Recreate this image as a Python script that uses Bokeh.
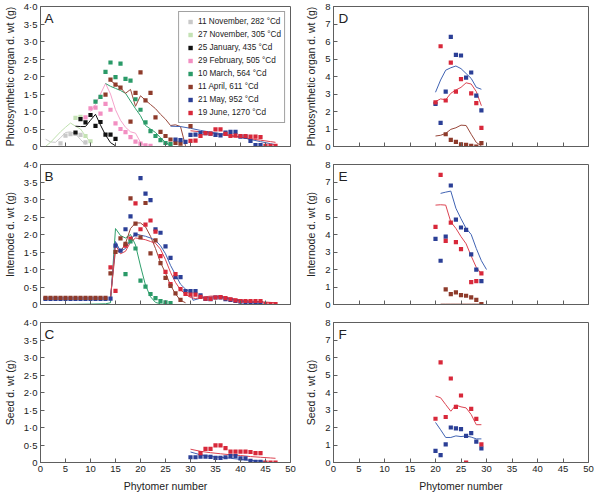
from bokeh.plotting import figure
from bokeh.layouts import gridplot
from bokeh.models import Range1d, FixedTicker, CustomJSTickFormatter, Legend, LegendItem, Label
from bokeh.embed import file_html
from bokeh.resources import INLINE

FONT = "Liberation Sans"

# ---------------- colours / labels ----------------
series_labels = ["11 November, 282 \u00b0Cd", "27 November, 305 \u00b0Cd", "25 January, 435 \u00b0Cd",
                 "29 February, 505 \u00b0Cd", "10 March, 564 \u00b0Cd", "11 April, 611 \u00b0Cd",
                 "21 May, 952 \u00b0Cd", "19 June, 1270 \u00b0Cd"]
series_colors = ["#c9c9c9", "#c4e2b4", "#111111", "#f28fc2", "#2a9a68", "#8e3b2b", "#2b3f96", "#d8283a"]
line_colors = ["#c9c9c9", "#bfe0ae", "#111111", "#f4a3cb", "#2f9f6c", "#98473a", "#4063b3", "#dc4452"]

x_ticks = [0, 5, 10, 15, 20, 25, 30, 35, 40, 45, 50]
left_y_ticks = [0, 0.5, 1.0, 1.5, 2.0, 2.5, 3.0, 3.5, 4.0]
right_y_ticks = [0, 1, 2, 3, 4, 5, 6, 7, 8]

# ---------------- Panel A : photosynthetic organ, main stem ----------------
a_nov11_px = [4, 5, 6, 7, 8, 9]
a_nov11_py = [0.09, 0.31, 0.35, 0.36, 0.33, 0.12]
a_nov11_lx = [1, 2, 3, 4, 5, 6, 7, 8, 9]
a_nov11_ly = [0.21, 0.13, 0.12, 0.25, 0.40, 0.42, 0.36, 0.20, 0.05]

a_nov27_px = [7, 8, 9, 10]
a_nov27_py = [0.82, 0.85, 0.30, 0.15]
a_nov27_lx = [1, 2, 3, 4, 5, 6, 7, 8, 9, 10]
a_nov27_ly = [0.00, 0.12, 0.27, 0.42, 0.55, 0.67, 0.58, 0.50, 0.30, 0.12]

a_jan25_px = [7, 8, 9, 10, 11, 12, 13, 14, 15]
a_jan25_py = [0.40, 0.78, 0.69, 0.90, 0.59, 0.70, 0.34, 0.34, 0.22]
a_jan25_lx = [7, 8, 9, 10, 11, 12, 13, 14, 15]
a_jan25_ly = [0.58, 0.57, 0.57, 0.75, 0.92, 0.61, 0.33, 0.11, 0.02]

a_feb29_px = [9, 10, 11, 12, 13, 14, 15, 16, 17, 18, 19, 20, 21, 22]
a_feb29_py = [0.83, 1.09, 1.11, 0.94, 1.22, 1.05, 0.66, 0.50, 0.41, 0.27, 0.14, 0.08, 0.03, 0.02]
a_feb29_lx = [10, 11, 12, 13, 14, 15, 16, 17, 18, 19, 20, 21]
a_feb29_ly = [1.00, 1.20, 1.50, 1.80, 1.50, 1.05, 0.75, 0.55, 0.42, 0.38, 0.12, 0.00]

a_mar10_px = [11, 12, 13, 14, 15, 16, 17, 18, 19, 20, 21, 22, 23, 24, 25, 26]
a_mar10_py = [1.28, 1.42, 2.13, 2.40, 1.98, 2.37, 1.93, 1.88, 1.35, 1.05, 0.69, 0.44, 0.30, 0.18, 0.10, 0.07]
a_mar10_lx = [13, 14, 15, 16, 17, 18, 19, 20, 21, 22, 23, 24, 25, 26]
a_mar10_ly = [1.80, 1.72, 1.66, 1.60, 1.52, 1.30, 1.08, 0.88, 0.60, 0.50, 0.40, 0.25, 0.12, 0.03]

a_apr11_px = [13, 14, 15, 16, 18, 19, 20, 21, 22, 23, 24, 25, 26, 27, 28, 30]
a_apr11_py = [1.48, 1.91, 1.77, 1.68, 0.71, 1.53, 2.12, 1.32, 1.53, 0.83, 0.42, 0.30, 0.20, 0.10, 0.08, 0.58]
a_apr11_lx = [14, 15, 16, 17, 18, 19, 20, 21, 22, 23, 24, 25, 26, 27, 28, 29]
a_apr11_ly = [1.88, 1.78, 1.68, 1.52, 1.63, 1.15, 1.45, 1.32, 1.20, 1.08, 0.92, 0.78, 0.60, 0.62, 0.57, 0.02]

a_may21_px = [27, 28, 29, 30, 31, 32, 33, 34, 35, 36, 37, 38, 39, 40, 41, 42, 43, 44]
a_may21_py = [0.20, 0.18, 0.13, 0.33, 0.34, 0.38, 0.38, 0.37, 0.33, 0.32, 0.40, 0.42, 0.42, 0.28, 0.28, 0.16, 0.04, 0.04]
a_may21_lx = [26, 28, 30, 32, 34, 36, 38, 40, 42, 44, 46, 47]
a_may21_ly = [0.58, 0.57, 0.52, 0.46, 0.41, 0.37, 0.32, 0.27, 0.20, 0.14, 0.08, 0.05]

a_jun19_px = [30, 31, 32, 33, 34, 35, 36, 37, 38, 39, 40, 41, 42, 43, 44, 45, 46, 47]
a_jun19_py = [0.16, 0.17, 0.30, 0.38, 0.37, 0.49, 0.49, 0.36, 0.30, 0.31, 0.30, 0.30, 0.28, 0.28, 0.27, 0.02, 0.02, 0.02]
a_jun19_lx = [30, 32, 34, 36, 38, 40, 42, 44, 46, 47]
a_jun19_ly = [0.45, 0.42, 0.38, 0.34, 0.30, 0.26, 0.22, 0.18, 0.14, 0.12]

# ---------------- Panel B : internode, main stem ----------------
b_mar10_px = [17, 18, 19, 20, 21, 22, 23, 24, 25, 26]
b_mar10_py = [0.87, 1.80, 1.60, 0.68, 0.51, 0.30, 0.18, 0.10, 0.06, 0.04]
b_mar10_lx = [1, 5, 10, 13, 14, 15, 16, 17, 18, 19, 20, 21, 22, 23, 24, 25]
b_mar10_ly = [0.00, 0.00, 0.01, 0.02, 0.05, 2.17, 1.97, 1.90, 2.00, 1.70, 1.10, 0.55, 0.22, 0.06, 0.02, 0.00]

b_apr11_px = [1, 2, 3, 4, 5, 6, 7, 8, 9, 10, 11, 12, 13, 14, 15, 16, 17, 18, 19, 20, 21, 22, 23, 24, 25, 26, 27, 28]
b_apr11_py = [0.19, 0.19, 0.19, 0.19, 0.19, 0.19, 0.19, 0.19, 0.19, 0.19, 0.19, 0.19, 0.19,
              0.89, 1.50, 1.89, 1.73, 3.03, 2.31, 1.92, 2.90, 1.46, 1.83, 1.18, 0.76, 0.53, 0.32, 0.13]
b_apr11_lx = [14, 15, 16, 17, 18, 19, 20, 21, 22, 23, 24, 25, 26, 27, 28, 29]
b_apr11_ly = [0.20, 1.55, 1.50, 1.75, 2.17, 2.33, 2.33, 2.22, 1.95, 1.60, 1.20, 0.90, 0.55, 0.30, 0.12, 0.05]

b_may21_px = [1, 2, 3, 4, 5, 6, 7, 8, 9, 10, 11, 12, 13, 14, 15, 16, 17, 18, 19, 20, 21, 22,
              23, 24, 25, 26, 27, 28, 29, 30, 31, 32, 33, 34, 35, 36, 37, 38, 39, 40, 41, 42, 43, 44]
b_may21_py = [0.16, 0.16, 0.16, 0.16, 0.16, 0.16, 0.16, 0.16, 0.16, 0.16, 0.16, 0.16, 0.16,
              0.17, 1.68, 1.54, 2.15, 2.52, 2.00, 3.61, 3.17, 2.98, 2.15, 2.05, 1.66, 1.33, 0.78,
              0.78, 0.38, 0.38, 0.38, 0.26, 0.16, 0.15, 0.20, 0.20, 0.15, 0.13, 0.10, 0.08, 0.06,
              0.04, 0.04, 0.04]
b_may21_lx = [14, 15, 16, 17, 18, 19, 20, 21, 22, 23, 24, 25, 26, 27, 28, 29, 30, 30.5, 32, 34, 36, 38, 40, 42, 44]
b_may21_ly = [0.18, 1.80, 1.52, 1.60, 1.85, 2.02, 1.98, 1.95, 1.90, 1.83, 1.68, 1.45, 1.12, 0.85, 0.58,
              0.44, 0.35, 0.12, 0.18, 0.22, 0.21, 0.15, 0.10, 0.06, 0.03]

b_jun19_px = [14, 15, 17, 18, 19, 20, 21, 22, 23, 24, 25, 26, 27, 28, 29, 30, 31, 32, 33, 34, 35,
              36, 37, 38, 39, 40, 41, 42, 43, 44, 45, 46, 47]
b_jun19_py = [1.06, 0.39, 1.68, 1.88, 2.89, 2.15, 2.28, 2.40, 2.08, 1.38, 0.93, 0.58, 0.87, 0.44,
              0.30, 0.28, 0.28, 0.22, 0.17, 0.16, 0.20, 0.21, 0.18, 0.15, 0.12, 0.10, 0.10, 0.10,
              0.10, 0.10, 0.01, 0.01, 0.01]
b_jun19_lx = [14, 15, 16, 17, 18, 19, 20, 21, 22, 23, 24, 25, 26, 27, 28, 29, 30, 31, 32, 34, 36, 38, 40, 42, 44, 46, 47]
b_jun19_ly = [0.18, 1.70, 1.45, 1.52, 1.78, 1.90, 1.88, 1.85, 1.80, 1.75, 1.58, 1.28, 0.92, 0.63,
              0.42, 0.30, 0.20, 0.17, 0.20, 0.24, 0.24, 0.18, 0.13, 0.10, 0.08, 0.06, 0.05]

# ---------------- Panel C : seed, main stem ----------------
c_may21_px = [30, 31, 32, 33, 34, 35, 36, 37, 38, 39, 40, 41, 42, 43, 44]
c_may21_py = [0.15, 0.15, 0.17, 0.17, 0.16, 0.13, 0.13, 0.15, 0.18, 0.18, 0.12, 0.12, 0.05, 0.02, 0.02]
c_may21_lx = [30, 32, 34, 36, 38, 40, 42, 44, 45]
c_may21_ly = [0.30, 0.22, 0.17, 0.15, 0.12, 0.09, 0.06, 0.04, 0.03]

c_jun19_px = [32, 33, 34, 35, 36, 37, 38, 39, 40, 41, 42, 43, 44, 45, 46, 47]
c_jun19_py = [0.27, 0.39, 0.39, 0.49, 0.49, 0.41, 0.31, 0.31, 0.31, 0.31, 0.30, 0.27, 0.27, 0.00, 0.00, 0.00]
c_jun19_lx = [30, 32, 34, 36, 38, 40, 42, 44, 46, 47]
c_jun19_ly = [0.38, 0.32, 0.28, 0.25, 0.22, 0.20, 0.17, 0.15, 0.13, 0.12]

# ---------------- Panel D : photosynthetic organ, tillers ----------------
d_apr11_px = [22, 23, 24, 25, 26, 27, 28, 29]
d_apr11_py = [0.70, 0.38, 0.26, 0.13, 0.09, 0.04, 0.00, 0.19]
d_apr11_lx = [20, 21, 22, 23, 24, 25, 26, 27, 28, 29]
d_apr11_ly = [0.60, 0.64, 0.75, 0.98, 1.07, 1.22, 1.20, 0.70, 0.23, 0.04]

d_may21_px = [20, 21, 22, 23, 24, 25, 26, 27, 28, 29]
d_may21_py = [2.44, 1.35, 3.14, 6.27, 5.24, 5.20, 3.94, 4.23, 2.91, 2.07]
d_may21_lx = [20, 21, 22, 23, 24, 25, 26, 27, 28, 29]
d_may21_ly = [3.10, 3.80, 4.36, 4.50, 4.60, 4.45, 4.17, 3.89, 3.38, 3.27]

d_jun19_px = [20, 21, 22, 23, 24, 25, 27, 28, 29]
d_jun19_py = [2.52, 5.73, 2.63, 4.79, 3.14, 3.85, 3.04, 2.48, 1.07]
d_jun19_lx = [20, 21, 22, 23, 24, 25, 26, 27, 28, 29]
d_jun19_ly = [2.57, 2.72, 2.67, 3.04, 3.23, 3.38, 3.64, 3.57, 3.14, 2.33]

# ---------------- Panel E : internode, tillers ----------------
e_apr11_px = [22, 23, 24, 25, 26, 27, 28, 29]
e_apr11_py = [0.87, 0.59, 0.69, 0.54, 0.50, 0.41, 0.26, 0.02]
e_apr11_lx = [21, 22, 23, 24, 25, 26, 27, 28, 29]
e_apr11_ly = [0.02, 0.02, 0.02, 0.02, 0.02, 0.02, 0.02, 0.02, 0.02]

e_may21_px = [20, 21, 22, 23, 24, 25, 26, 27, 28, 29]
e_may21_py = [3.75, 2.50, 3.88, 6.80, 4.85, 4.40, 4.27, 2.86, 1.99, 1.34]
e_may21_lx = [21, 22, 23, 24, 25, 26, 27, 28, 29, 30]
e_may21_ly = [6.35, 6.42, 6.48, 5.50, 4.90, 4.35, 4.00, 3.20, 2.50, 2.00]

e_jun19_px = [20, 21, 22, 23, 24, 25, 27, 28, 29]
e_jun19_py = [4.44, 7.41, 3.64, 4.68, 3.56, 3.17, 1.28, 1.34, 1.78]
e_jun19_lx = [20, 21, 22, 23, 24, 25, 26, 27, 28, 29]
e_jun19_ly = [5.68, 5.70, 5.68, 4.72, 4.35, 3.88, 3.47, 2.77, 2.12, 1.75]

# ---------------- Panel F : seed, tillers ----------------
f_may21_px = [20, 21, 22, 23, 24, 25, 26, 27, 28, 29]
f_may21_py = [0.67, 0.42, 1.04, 2.00, 1.95, 1.91, 1.52, 1.68, 1.19, 0.81]
f_may21_lx = [20, 21, 22, 23, 24, 25, 26, 27, 28, 29]
f_may21_ly = [2.29, 1.87, 1.43, 1.43, 1.52, 1.48, 1.52, 1.45, 1.35, 1.35]

f_jun19_px = [20, 21, 22, 23, 24, 25, 26, 27, 28, 29]
f_jun19_py = [2.50, 5.72, 2.60, 4.80, 3.18, 3.83, 0.00, 3.06, 2.49, 1.04]
f_jun19_lx = [20, 21, 22, 23, 24, 25, 26, 27, 28, 29]
f_jun19_ly = [3.80, 3.70, 3.31, 2.93, 3.28, 3.18, 3.12, 2.74, 2.16, 2.16]

# ---------------- styling helpers ----------------
AX = "#5e5e5e"
TXT = "#222222"
FRAME_H = 140
MARK = 4.2


def make_fig(frame_w, ymax, yticks, ylabel, bottom, left_col):
    p = figure(frame_width=frame_w, frame_height=FRAME_H, output_backend="svg", toolbar_location=None,
               x_range=Range1d(0, 50), y_range=Range1d(0, ymax),
               min_border_top=6, min_border_bottom=(2 if bottom else 12),
               min_border_left=0, min_border_right=(12 if left_col else 6),
               background_fill_color="white", border_fill_color="white")
    p.xgrid.visible = False
    p.ygrid.visible = False
    p.outline_line_color = AX
    p.outline_line_width = 1
    for ax in (p.xaxis[0], p.yaxis[0]):
        ax.axis_line_color = AX
        ax.major_tick_line_color = AX
        ax.minor_tick_line_color = None
        ax.major_tick_in = 4
        ax.major_tick_out = 0
        ax.major_label_text_font = FONT
        ax.major_label_text_font_size = "9.5px"
        ax.major_label_text_color = TXT
        ax.major_label_standoff = 3
        ax.axis_label_text_font = FONT
        ax.axis_label_text_font_size = "10.5px"
        ax.axis_label_text_font_style = "normal"
        ax.axis_label_text_color = TXT
        ax.axis_label_standoff = 5
    p.xaxis.ticker = FixedTicker(ticks=x_ticks)
    p.yaxis.ticker = FixedTicker(ticks=yticks)
    if ymax == 4:
        p.yaxis.formatter = CustomJSTickFormatter(
            code="return tick == 0 ? '0' : tick.toFixed(1).replace('.', '\u00b7');")
    else:
        p.yaxis.formatter = CustomJSTickFormatter(code="return tick.toFixed(0);")
    if bottom:
        p.xaxis.axis_label = "Phytomer number"
        p.xaxis.formatter = CustomJSTickFormatter(code="return tick.toFixed(0);")
    else:
        p.xaxis.formatter = CustomJSTickFormatter(code="return '';")
        p.xaxis.major_label_standoff = 0
    p.yaxis.axis_label = ylabel
    return p


def letter(p, txt, x, y):
    p.add_layout(Label(x=x, y=y, text=txt, text_font=FONT, text_font_size="13.5px",
                       text_color=TXT, text_baseline="top", text_align="left"))


def add_line(p, xs, ys, color):
    p.line(xs, ys, line_color=color, line_width=1)


def add_pts(p, xs, ys, color):
    return p.scatter(xs, ys, marker="square", size=MARK, fill_color=color, line_color=None)


LW, RW = 250, 255
NOV11, NOV27, JAN25, FEB29, MAR10, APR11, MAY21, JUN19 = series_colors
LNOV11, LNOV27, LJAN25, LFEB29, LMAR10, LAPR11, LMAY21, LJUN19 = line_colors

# ---- A ----
pA = make_fig(LW, 4, left_y_ticks, "Photosynthetic organ d. wt (g)", False, True)
for xs, ys, c in [(a_nov11_lx, a_nov11_ly, LNOV11), (a_nov27_lx, a_nov27_ly, LNOV27),
                  (a_jan25_lx, a_jan25_ly, LJAN25), (a_feb29_lx, a_feb29_ly, LFEB29),
                  (a_mar10_lx, a_mar10_ly, LMAR10), (a_apr11_lx, a_apr11_ly, LAPR11),
                  (a_may21_lx, a_may21_ly, LMAY21), (a_jun19_lx, a_jun19_ly, LJUN19)]:
    add_line(pA, xs, ys, c)
rends = []
for xs, ys, c in [(a_nov11_px, a_nov11_py, NOV11), (a_nov27_px, a_nov27_py, NOV27),
                  (a_jan25_px, a_jan25_py, JAN25), (a_feb29_px, a_feb29_py, FEB29),
                  (a_mar10_px, a_mar10_py, MAR10), (a_apr11_px, a_apr11_py, APR11),
                  (a_may21_px, a_may21_py, MAY21), (a_jun19_px, a_jun19_py, JUN19)]:
    rends.append(add_pts(pA, xs, ys, c))
legend = Legend(items=[LegendItem(label=lab, renderers=[r]) for lab, r in zip(series_labels, rends)],
                location="top_right", margin=5, padding=3, spacing=0,
                glyph_width=16, glyph_height=11, label_height=13, label_standoff=0,
                label_text_font=FONT, label_text_font_size="8.2px", label_text_color=TXT,
                border_line_color="#444444", border_line_width=1, background_fill_color="white",
                background_fill_alpha=1.0)
pA.add_layout(legend)
letter(pA, "A", 0.8, 3.86)

# ---- B ----
pB = make_fig(LW, 4, left_y_ticks, "Internode d. wt (g)", False, True)
for xs, ys, c in [(b_mar10_lx, b_mar10_ly, LMAR10), (b_apr11_lx, b_apr11_ly, LAPR11),
                  (b_may21_lx, b_may21_ly, LMAY21), (b_jun19_lx, b_jun19_ly, LJUN19)]:
    add_line(pB, xs, ys, c)
for xs, ys, c in [(b_may21_px, b_may21_py, MAY21), (b_jun19_px, b_jun19_py, JUN19),
                  (b_mar10_px, b_mar10_py, MAR10), (b_apr11_px, b_apr11_py, APR11)]:
    add_pts(pB, xs, ys, c)
letter(pB, "B", 0.8, 3.86)

# ---- C ----
pC = make_fig(LW, 4, left_y_ticks, "Seed d. wt (g)", True, True)
add_line(pC, c_may21_lx, c_may21_ly, LMAY21)
add_line(pC, c_jun19_lx, c_jun19_ly, LJUN19)
add_pts(pC, c_may21_px, c_may21_py, MAY21)
add_pts(pC, c_jun19_px, c_jun19_py, JUN19)
letter(pC, "C", 0.8, 3.86)

# ---- D ----
pD = make_fig(RW, 8, right_y_ticks, "Photosynthetic organ d. wt (g)", False, False)
for xs, ys, c in [(d_apr11_lx, d_apr11_ly, LAPR11), (d_may21_lx, d_may21_ly, LMAY21),
                  (d_jun19_lx, d_jun19_ly, LJUN19)]:
    add_line(pD, xs, ys, c)
for xs, ys, c in [(d_apr11_px, d_apr11_py, APR11), (d_may21_px, d_may21_py, MAY21),
                  (d_jun19_px, d_jun19_py, JUN19)]:
    add_pts(pD, xs, ys, c)
letter(pD, "D", 1.0, 7.73)

# ---- E ----
pE = make_fig(RW, 8, right_y_ticks, "Internode d. wt (g)", False, False)
for xs, ys, c in [(e_apr11_lx, e_apr11_ly, LAPR11), (e_may21_lx, e_may21_ly, LMAY21),
                  (e_jun19_lx, e_jun19_ly, LJUN19)]:
    add_line(pE, xs, ys, c)
for xs, ys, c in [(e_apr11_px, e_apr11_py, APR11), (e_may21_px, e_may21_py, MAY21),
                  (e_jun19_px, e_jun19_py, JUN19)]:
    add_pts(pE, xs, ys, c)
letter(pE, "E", 1.0, 7.73)

# ---- F ----
pF = make_fig(RW, 8, right_y_ticks, "Seed d. wt (g)", True, False)
add_line(pF, f_may21_lx, f_may21_ly, LMAY21)
add_line(pF, f_jun19_lx, f_jun19_ly, LJUN19)
add_pts(pF, f_may21_px, f_may21_py, MAY21)
add_pts(pF, f_jun19_px, f_jun19_py, JUN19)
letter(pF, "F", 1.0, 7.73)

grid = gridplot([[pA, pD], [pB, pE], [pC, pF]], toolbar_location=None)

open("out.html", "w").write(file_html(grid, INLINE))
